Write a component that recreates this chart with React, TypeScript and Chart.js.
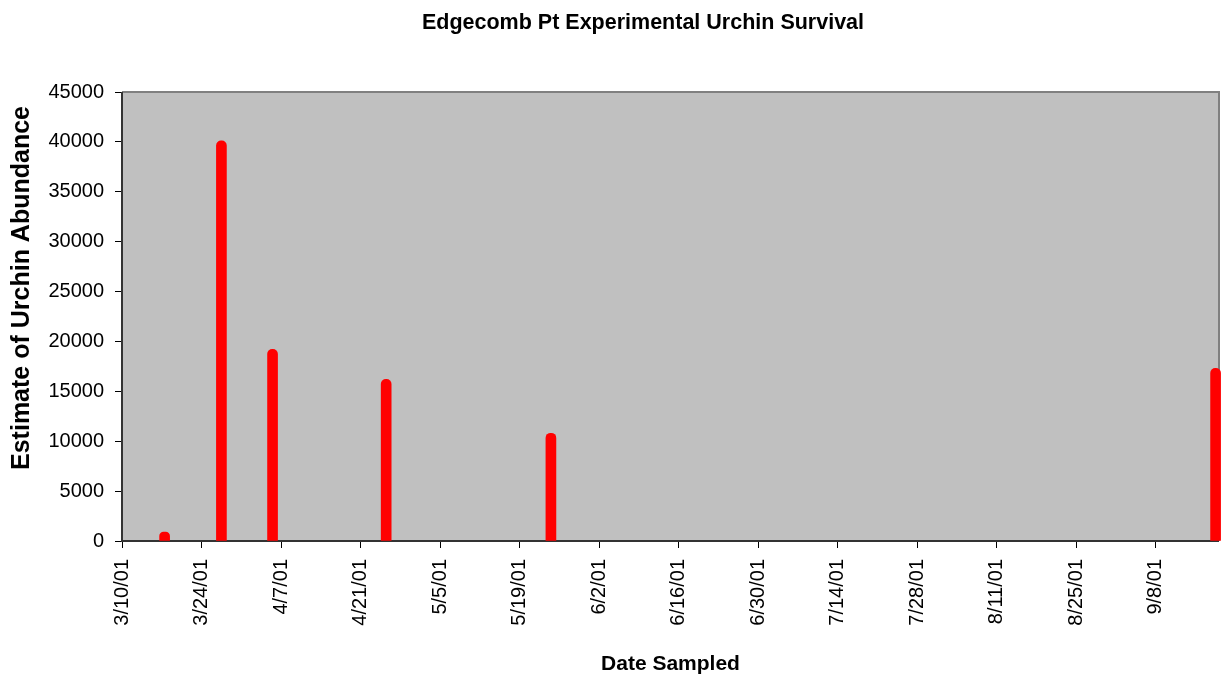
import React, { useEffect, useRef } from "react";
import { Chart, registerables } from "chart.js";

Chart.register(...registerables);

const chartTitle = "Edgecomb Pt Experimental Urchin Survival";
const xAxisTitle = "Date Sampled";
const yAxisTitle = "Estimate of Urchin Abundance";

const axisStart = "3/10/01";
const axisEnd = "9/19/01";
const tickDates = [
  "3/10/01", "3/24/01", "4/7/01", "4/21/01", "5/5/01", "5/19/01", "6/2/01",
  "6/16/01", "6/30/01", "7/14/01", "7/28/01", "8/11/01", "8/25/01", "9/8/01",
];
const sampleDates = ["3/17/01", "3/27/01", "4/5/01", "4/25/01", "5/24/01", "9/18/01"];
const abundance = [900, 40100, 19200, 16200, 10800, 17300];
const yTicks = [0, 5000, 10000, 15000, 20000, 25000, 30000, 35000, 40000, 45000];

function dayOf(s: string): number {
  const [m, d, y] = s.split("/").map(Number);
  const [m0, d0, y0] = axisStart.split("/").map(Number);
  return (Date.UTC(2000 + y, m - 1, d) - Date.UTC(2000 + y0, m0 - 1, d0)) / 86400000;
}

const FONT = "'Liberation Sans', Arial, sans-serif";

const plotFramePlugin = {
  id: "plotFrame",
  beforeDatasetsDraw(chart: any) {
    const { ctx, chartArea: a } = chart;
    ctx.save();
    ctx.fillStyle = "#C0C0C0";
    ctx.fillRect(a.left, a.top, a.right - a.left, a.bottom - a.top);
    ctx.lineWidth = 2;
    ctx.strokeStyle = "#808080";
    ctx.beginPath();
    ctx.moveTo(a.left, a.top);
    ctx.lineTo(a.right, a.top);
    ctx.lineTo(a.right, a.bottom);
    ctx.stroke();
    ctx.strokeStyle = "#333333";
    ctx.beginPath();
    ctx.moveTo(a.left, a.top);
    ctx.lineTo(a.left, a.bottom);
    ctx.lineTo(a.right, a.bottom);
    ctx.stroke();
    ctx.restore();
  },
  afterDraw(chart: any) {
    const { ctx } = chart;
    ctx.save();
    ctx.fillStyle = "#000";
    ctx.textAlign = "center";
    ctx.font = `bold 21.5px ${FONT}`;
    ctx.textBaseline = "alphabetic";
    ctx.fillText(chartTitle, 643, 28.5);
    ctx.translate(22, 288);
    ctx.rotate(-Math.PI / 2);
    ctx.font = `bold 25px ${FONT}`;
    ctx.textBaseline = "middle";
    ctx.fillText(yAxisTitle, 0, 0);
    ctx.restore();
  },
};

export default function App() {
  const ref = useRef<HTMLCanvasElement>(null);

  useEffect(() => {
    const canvas = ref.current;
    if (!canvas) return;
    const points = sampleDates.map((d, i) => ({ x: dayOf(d) + 0.5, y: abundance[i] }));
    const chart = new Chart(canvas, {
      type: "bar",
      data: {
        datasets: [
          {
            data: points as any,
            backgroundColor: "#FF0000",
            borderWidth: 0,
            barThickness: 10,
            borderRadius: 5,
            borderSkipped: "start",
            clip: false as any,
          },
        ],
      },
      plugins: [plotFramePlugin],
      options: {
        responsive: false,
        animation: false,
        layout: { padding: { left: 0, right: 13, top: 92, bottom: 0 } },
        plugins: {
          legend: { display: false },
          tooltip: { enabled: false },
          title: { display: false },
        },
        scales: {
          x: {
            type: "linear",
            offset: false,
            min: 0,
            max: dayOf(axisEnd) + 0.1,
            afterFit(scale: any) {
              scale.height = 140;
            },
            afterBuildTicks(scale: any) {
              scale.ticks = tickDates.map((d) => ({ value: dayOf(d) }));
            },
            ticks: {
              autoSkip: false,
              minRotation: 90,
              maxRotation: 90,
              padding: 11,
              color: "#000",
              font: { family: FONT, size: 20 },
              callback(value: any) {
                const i = tickDates.findIndex((d) => dayOf(d) === value);
                return i >= 0 ? tickDates[i] : "";
              },
            },
            grid: { offset: false, drawOnChartArea: false, drawTicks: true, tickLength: 7, color: "#000" },
            border: { display: false },
            title: {
              display: true,
              text: xAxisTitle,
              color: "#000",
              font: { family: FONT, size: 21, weight: "bold", lineHeight: 1.2 },
              padding: { top: 0, bottom: 4 },
            },
          },
          y: {
            min: 0,
            max: 45000,
            afterFit(scale: any) {
              scale.width = 122;
            },
            afterBuildTicks(scale: any) {
              scale.ticks = yTicks.map((v) => ({ value: v }));
            },
            ticks: {
              padding: 11,
              color: "#000",
              font: { family: FONT, size: 20 },
              callback(value: any) {
                return String(value);
              },
            },
            grid: { drawOnChartArea: false, drawTicks: true, tickLength: 7, color: "#000" },
            border: { display: false },
          },
        },
      },
    });
    return () => chart.destroy();
  }, []);

  return (
    <div style={{ position: "fixed", left: 0, top: 0, width: 1232, height: 681, background: "#fff" }}>
      <canvas ref={ref} width={1232} height={681} />
    </div>
  );
}
